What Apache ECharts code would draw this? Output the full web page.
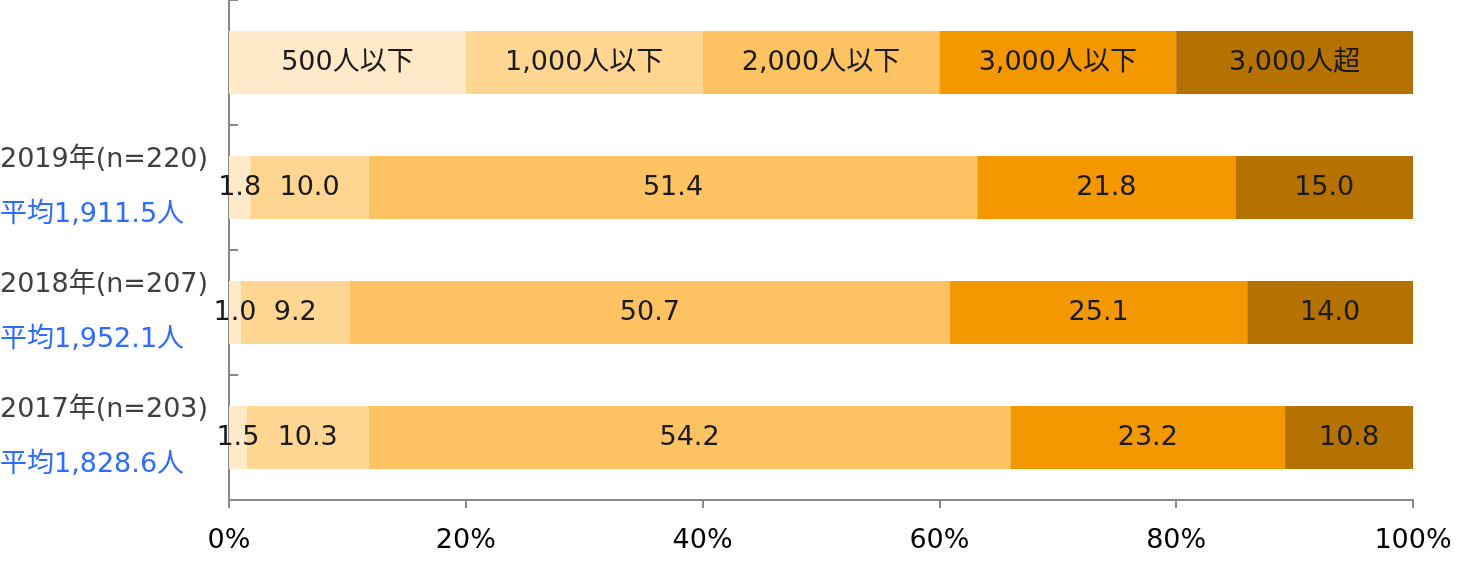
<!DOCTYPE html>
<html><head><meta charset="utf-8">
<script src="https://cdn.jsdelivr.net/npm/echarts@6/dist/echarts.min.js"></script>
<style>html,body{margin:0;padding:0;background:#fff}#c{width:1466px;height:564px}</style>
</head><body><div id="c"></div>
<script>
const years = ['2019年(n=220)', '2018年(n=207)', '2017年(n=203)'];
const averages = ['平均1,911.5人', '平均1,952.1人', '平均1,828.6人'];
const seriesNames = ['500人以下', '1,000人以下', '2,000人以下', '3,000人以下', '3,000人超'];
const legendRowShare = [20, 20, 20, 20, 20];
const s500 = [1.8, 1.0, 1.5];
const s1000 = [10.0, 9.2, 10.3];
const s2000 = [51.4, 50.7, 54.2];
const s3000 = [21.8, 25.1, 23.2];
const sOver = [15.0, 14.0, 10.8];
const xTicks = [0, 20, 40, 60, 80, 100];

const colors = ['#FFE9C8', '#FED591', '#FDC362', '#F39800', '#B57200'];
const seriesValues = [s500, s1000, s2000, s3000, sOver];
const categories = ['legend'].concat(years);
const FONT = '"DejaVu Sans", "Noto Sans CJK JP", sans-serif';
const FS = 27;

const chart = echarts.init(document.getElementById('c'));
chart.setOption({
  animation: false,
  grid: { left: 229, right: 53, top: 0, bottom: 64, containLabel: false, outerBoundsMode: 'none' },
  xAxis: {
    type: 'value', min: 0, max: 100, interval: 20,
    axisLine: { show: true, lineStyle: { color: '#898989', width: 2 } },
    axisTick: { show: true, length: 8, lineStyle: { color: '#898989', width: 2 } },
    splitLine: { show: false },
    axisLabel: { margin: 27, fontSize: FS, color: '#000', fontFamily: FONT,
      formatter: v => xTicks.indexOf(v) >= 0 ? v + '%' : '' }
  },
  yAxis: {
    type: 'category', inverse: true, data: categories,
    axisLine: { show: true, lineStyle: { color: '#898989', width: 2 } },
    axisTick: { show: true, inside: true, length: 9, lineStyle: { color: '#898989', width: 2 } },
    axisLabel: {
      align: 'left', margin: 229,
      formatter: (v, i) => i === 0 ? '' : '{a|' + years[i - 1] + '}\n{b|' + averages[i - 1] + '}',
      rich: {
        a: { fontSize: FS, color: '#404040', fontFamily: FONT, lineHeight: 55 },
        b: { fontSize: FS, color: '#2F6BFF', fontFamily: FONT, lineHeight: 55 }
      }
    }
  },
  series: seriesNames.map((name, k) => ({
    name: name, type: 'bar', stack: 'total', barWidth: 63,
    itemStyle: { color: colors[k] },
    label: {
      show: true, position: 'inside', fontSize: FS, color: '#1a1a1a', fontFamily: FONT,
      formatter: p => p.dataIndex === 0 ? name : Number(p.value).toFixed(1)
    },
    data: [legendRowShare[k]].concat(seriesValues[k])
  }))
});
</script></body></html>
